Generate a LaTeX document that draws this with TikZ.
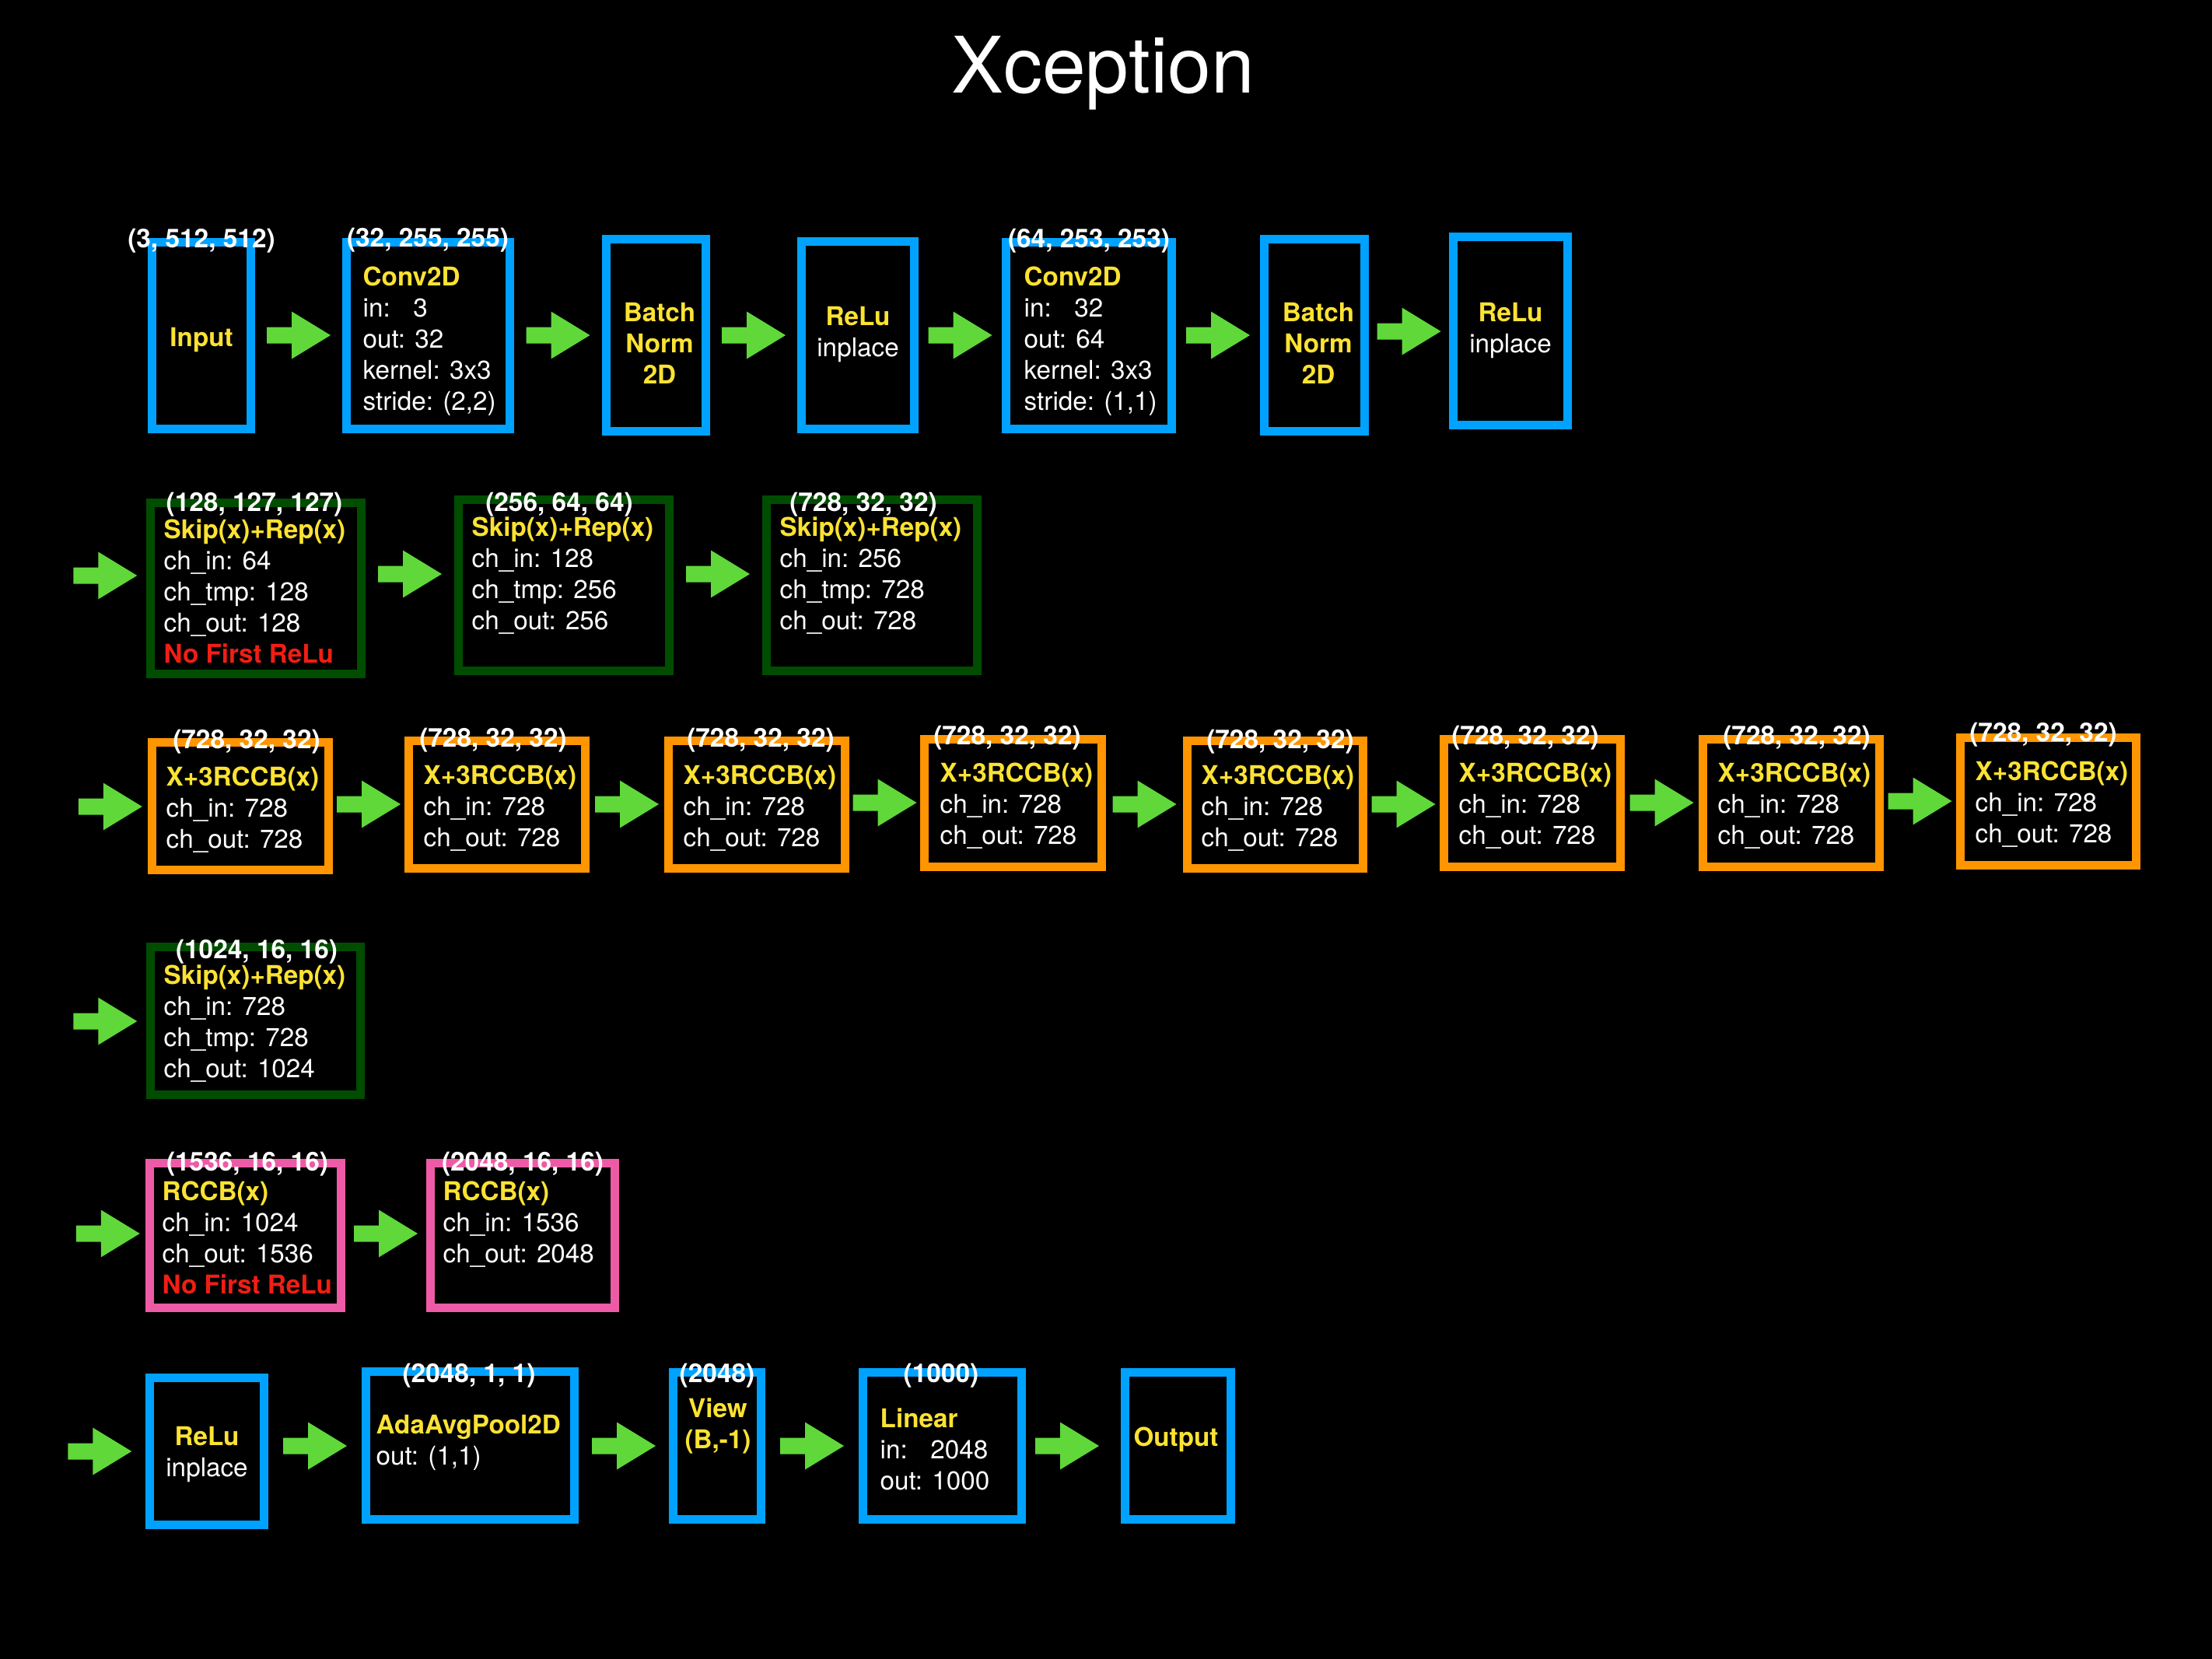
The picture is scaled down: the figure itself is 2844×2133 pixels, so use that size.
\documentclass[tikz,border=0pt]{standalone}
\usepackage{fontspec}
\setmainfont{TeX Gyre Heros}
\usetikzlibrary{calc}
\definecolor{cblue}{RGB}{0,162,255}
\definecolor{cgreen}{RGB}{0,77,0}
\definecolor{corange}{RGB}{255,149,0}
\definecolor{cpink}{RGB}{237,91,166}
\definecolor{carrow}{RGB}{96,216,58}
\definecolor{cyellow}{RGB}{252,226,50}
\definecolor{cred}{RGB}{240,30,20}
\newcommand\hdr[1]{\textbf{\textcolor{cyellow}{#1}}}
\newcommand\nfr[1]{\textbf{\textcolor{cred}{#1}}}
\newcommand\inlbl{\makebox[1.668em][l]{in:}}
\newcommand\tlines[1]{\begin{tabular}[t]{@{}l@{}}#1\end{tabular}}
\newcommand\tcent[1]{\begin{tabular}[t]{@{}c@{}}#1\end{tabular}}
% box from outer pixel coordinates
\newcommand\mybox[6]{\node[#2, minimum width={(#5-#3-11)*0.01cm}, minimum height={(#6-#4-11)*0.01cm}] (#1) at ({(#3+#5)/2},{(#4+#6)/2}) {};}
% block arrow between two nodes, at height #4, x offset #1
\newcommand\blockarr[4][0]{%
  \path ($(#2.east)!.5!(#3.west)$) coordinate (amid);
  \coordinate (ayy) at (0,#4);
  \fill[arrowfill, shift={($(amid |- ayy)+(#1,0)$)}] (-41,-10.5) -- (-9,-10.5) -- (-9,-30.5) -- (41,0) -- (-9,30.5) -- (-9,10.5) -- (-41,10.5) -- cycle;}
% block arrow from a free coordinate to a node
\newcommand\leadarr[3]{%
  \path ($(#1)!.5!(#2.west)$) coordinate (amid);
  \coordinate (ayy) at (0,#3);
  \fill[arrowfill, shift={(amid |- ayy)}] (-41,-10.5) -- (-9,-10.5) -- (-9,-30.5) -- (41,0) -- (-9,30.5) -- (-9,10.5) -- (-41,10.5) -- cycle;}
\tikzset{
  boxbase/.style={draw, line width=0.11cm, inner sep=0, outer sep=0},
  bbox/.style={boxbase, draw=cblue},
  gbox/.style={boxbase, draw=cgreen},
  obox/.style={boxbase, draw=corange},
  pbox/.style={boxbase, draw=cpink},
  arrowfill/.style={fill=carrow},
  txt/.style={anchor=base west, inner sep=0, text=white, font=\fontsize{9.45}{11.4}\selectfont},
  ctxt/.style={txt, anchor=base},
  lbl/.style={anchor=base, inner sep=0, text=white, font=\fontsize{9.5}{11.4}\selectfont\bfseries},
}
\begin{document}
\begin{tikzpicture}[x=0.01cm, y=-0.01cm]
\fill[black] (0,0) rectangle (2844,2133);
\useasboundingbox (0,0) rectangle (2844,2133);
\node[anchor=base, inner sep=0, text=white, font=\fontsize{28.5}{34}\selectfont] (title) at (1418,120) {Xception};

% ---------- row 1 ----------
\mybox{input}{bbox}{190}{306}{328}{557}
\mybox{conv1}{bbox}{440}{306}{661}{557}
\mybox{bn1}{bbox}{774}{302}{913}{560}
\mybox{relu1}{bbox}{1025}{305}{1181}{557}
\mybox{conv2}{bbox}{1288}{306}{1512}{557}
\mybox{bn2}{bbox}{1620}{302}{1760}{560}
\mybox{relu2}{bbox}{1863}{299}{2021}{552}
\node[lbl] (inputL) at (259,318) {(3, 512, 512)};
\node[lbl] (conv1L) at (550,317) {(32, 255, 255)};
\node[lbl] (conv2L) at (1400,318) {(64, 253, 253)};
\node[ctxt] (inputT) at (259,445) {\hdr{Input}};
\node[txt] (conv1T) at (466,367) {\tlines{\hdr{Conv2D}\\ \inlbl{} 3\\ out: 32\\ kernel: 3x3\\ stride: (2,2)}};
\node[ctxt] (bn1T) at (848,413) {\tcent{\hdr{Batch}\\ \hdr{Norm}\\ \hdr{2D}}};
\node[ctxt] (relu1T) at (1103,418) {\tcent{\hdr{ReLu}\\ inplace}};
\node[txt] (conv2T) at (1316,367) {\tlines{\hdr{Conv2D}\\ \inlbl{} 32\\ out: 64\\ kernel: 3x3\\ stride: (1,1)}};
\node[ctxt] (bn2T) at (1695,413) {\tcent{\hdr{Batch}\\ \hdr{Norm}\\ \hdr{2D}}};
\node[ctxt] (relu2T) at (1942,413) {\tcent{\hdr{ReLu}\\ inplace}};
\blockarr{input}{conv1}{431}
\blockarr{conv1}{bn1}{431}
\blockarr{bn1}{relu1}{431}
\blockarr{relu1}{conv2}{431}
\blockarr{conv2}{bn2}{431}
\blockarr{bn2}{relu2}{426}

% ---------- row 2 ----------
\mybox{skip1}{gbox}{188}{641}{470}{872}
\mybox{skip2}{gbox}{584}{637}{866}{868}
\mybox{skip3}{gbox}{980}{637}{1262}{868}
\node[lbl] (skip1L) at (327,657) {(128, 127, 127)};
\node[lbl] (skip2L) at (719,657) {(256, 64, 64)};
\node[lbl] (skip3L) at (1110,657) {(728, 32, 32)};
\node[txt] (skip1T) at (210,692) {\tlines{\hdr{Skip(x)+Rep(x)}\\ ch\_in: 64\\ ch\_tmp: 128\\ ch\_out: 128\\ \nfr{No First ReLu}}};
\node[txt] (skip2T) at (606,689) {\tlines{\hdr{Skip(x)+Rep(x)}\\ ch\_in: 128\\ ch\_tmp: 256\\ ch\_out: 256}};
\node[txt] (skip3T) at (1002,689) {\tlines{\hdr{Skip(x)+Rep(x)}\\ ch\_in: 256\\ ch\_tmp: 728\\ ch\_out: 728}};
\coordinate (r2start) at (77,740);
\leadarr{r2start}{skip1}{740}
\blockarr{skip1}{skip2}{738}
\blockarr{skip2}{skip3}{738}

% ---------- row 3 ----------
\mybox{o1}{obox}{190}{949}{428}{1124}
\mybox{o2}{obox}{520}{947}{758}{1122}
\mybox{o3}{obox}{854}{947}{1092}{1122}
\mybox{o4}{obox}{1183}{945}{1422}{1120}
\mybox{o5}{obox}{1521}{947}{1758}{1122}
\mybox{o6}{obox}{1851}{945}{2089}{1120}
\mybox{o7}{obox}{2184}{945}{2422}{1120}
\mybox{o8}{obox}{2515}{943}{2752}{1118}
\node[lbl] (o1L) at (317,962) {(728, 32, 32)};
\node[lbl] (o2L) at (634,960) {(728, 32, 32)};
\node[lbl] (o3L) at (978,960) {(728, 32, 32)};
\node[lbl] (o4L) at (1295,957) {(728, 32, 32)};
\node[lbl] (o5L) at (1646,962) {(728, 32, 32)};
\node[lbl] (o6L) at (1961,957) {(728, 32, 32)};
\node[lbl] (o7L) at (2310,957) {(728, 32, 32)};
\node[lbl] (o8L) at (2627,953) {(728, 32, 32)};
\node[txt] (o1T) at (213,1010) {\tlines{\hdr{X+3RCCB(x)}\\ ch\_in: 728\\ ch\_out: 728}};
\node[txt] (o2T) at (544,1008) {\tlines{\hdr{X+3RCCB(x)}\\ ch\_in: 728\\ ch\_out: 728}};
\node[txt] (o3T) at (878,1008) {\tlines{\hdr{X+3RCCB(x)}\\ ch\_in: 728\\ ch\_out: 728}};
\node[txt] (o4T) at (1208,1005) {\tlines{\hdr{X+3RCCB(x)}\\ ch\_in: 728\\ ch\_out: 728}};
\node[txt] (o5T) at (1544,1008) {\tlines{\hdr{X+3RCCB(x)}\\ ch\_in: 728\\ ch\_out: 728}};
\node[txt] (o6T) at (1875,1005) {\tlines{\hdr{X+3RCCB(x)}\\ ch\_in: 728\\ ch\_out: 728}};
\node[txt] (o7T) at (2208,1005) {\tlines{\hdr{X+3RCCB(x)}\\ ch\_in: 728\\ ch\_out: 728}};
\node[txt] (o8T) at (2539,1003) {\tlines{\hdr{X+3RCCB(x)}\\ ch\_in: 728\\ ch\_out: 728}};
\coordinate (r3start) at (88,1037);
\leadarr{r3start}{o1}{1037}
\blockarr{o1}{o2}{1034}
\blockarr{o2}{o3}{1034}
\blockarr{o3}{o4}{1032}
\blockarr{o4}{o5}{1034}
\blockarr{o5}{o6}{1034}
\blockarr{o6}{o7}{1032}
\blockarr{o7}{o8}{1030}

% ---------- row 4 ----------
\mybox{skip4}{gbox}{188}{1212}{469}{1413}
\node[lbl] (skip4L) at (330,1232) {(1024, 16, 16)};
\node[txt] (skip4T) at (210,1265) {\tlines{\hdr{Skip(x)+Rep(x)}\\ ch\_in: 728\\ ch\_tmp: 728\\ ch\_out: 1024}};
\coordinate (r4start) at (77,1313);
\leadarr{r4start}{skip4}{1313}

% ---------- row 5 ----------
\mybox{rccb1}{pbox}{187}{1490}{444}{1687}
\mybox{rccb2}{pbox}{548}{1490}{796}{1687}
\node[lbl] (rccb1L) at (318,1505) {(1536, 16, 16)};
\node[lbl] (rccb2L) at (672,1505) {(2048, 16, 16)};
\node[txt] (rccb1T) at (208,1543) {\tlines{\hdr{RCCB(x)}\\ ch\_in: 1024\\ ch\_out: 1536\\ \nfr{No First ReLu}}};
\node[txt] (rccb2T) at (569,1543) {\tlines{\hdr{RCCB(x)}\\ ch\_in: 1536\\ ch\_out: 2048}};
\coordinate (r5start) at (85,1586);
\leadarr{r5start}{rccb1}{1586}
\blockarr{rccb1}{rccb2}{1586}

% ---------- row 6 ----------
\mybox{relu3}{bbox}{187}{1766}{345}{1966}
\mybox{pool}{bbox}{465}{1758}{744}{1959}
\mybox{view}{bbox}{860}{1759}{984}{1959}
\mybox{lin}{bbox}{1104}{1759}{1319}{1959}
\mybox{outp}{bbox}{1441}{1759}{1588}{1959}
\node[lbl] (poolL) at (603,1777) {(2048, 1, 1)};
\node[lbl] (viewL) at (922,1777) {(2048)};
\node[lbl] (linL) at (1210,1777) {(1000)};
\node[ctxt] (relu3T) at (266,1858) {\tcent{\hdr{ReLu}\\ inplace}};
\node[txt] (poolT) at (483,1843) {\tlines{\hdr{AdaAvgPool2D}\\ out: (1,1)}};
\node[ctxt] (viewT) at (923,1822) {\tcent{\hdr{View}\\ \hdr{(B,-1)}}};
\node[txt] (linT) at (1131,1835) {\tlines{\hdr{Linear}\\ \inlbl{} 2048\\ out: 1000}};
\node[ctxt] (outpT) at (1512,1859) {\hdr{Output}};
\coordinate (r6start) at (64,1866);
\leadarr{r6start}{relu3}{1866}
\blockarr{relu3}{pool}{1859}
\blockarr{pool}{view}{1859}
\blockarr{view}{lin}{1859}
\blockarr[-8]{lin}{outp}{1859}
\end{tikzpicture}
\end{document}
